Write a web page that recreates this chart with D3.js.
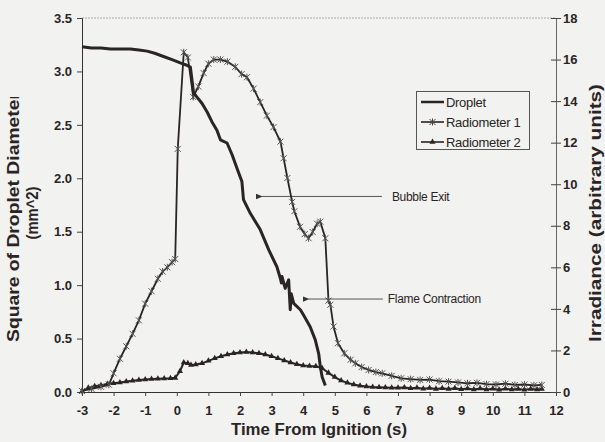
<!DOCTYPE html>
<html><head><meta charset="utf-8">
<script src="https://cdn.jsdelivr.net/npm/d3@7"></script>
<style>
html,body{margin:0;padding:0;background:#f2f2f0;}
svg{display:block;}
text{font-family:"Liberation Sans",Arial,sans-serif;fill:#2a2424;}
</style></head>
<body>
<svg id="c" width="605" height="442"></svg>
<script>
// ---- data ----
const dropletTime = [-3.0,-2.7,-2.4,-2.1,-1.8,-1.47,-1.2,-0.94,-0.7,-0.42,-0.15,0.11,0.3,0.43,0.53,0.64,0.8,0.96,1.11,1.27,1.38,1.59,1.75,1.91,2.06,2.11,2.33,2.64,2.91,3.17,3.28,3.31,3.33,3.43,3.54,3.59,3.62,3.70,3.91,4.01,4.22,4.38,4.49,4.54,4.60,4.70];
const dropletValue = [3.23,3.22,3.22,3.21,3.21,3.21,3.20,3.19,3.17,3.14,3.11,3.08,3.06,3.04,2.80,2.76,2.70,2.62,2.53,2.45,2.36,2.33,2.22,2.09,1.97,1.80,1.67,1.52,1.33,1.17,1.06,1.02,1.08,0.97,1.05,0.77,0.92,0.83,0.77,0.72,0.61,0.49,0.36,0.24,0.14,0.06];

const rad1Time = [-3.0,-2.7,-2.4,-2.15,-2.0,-1.8,-1.6,-1.4,-1.2,-1.0,-0.8,-0.6,-0.45,-0.3,-0.15,-0.05,0.03,0.22,0.35,0.52,0.68,0.85,1.0,1.17,1.38,1.6,1.85,2.05,2.22,2.43,2.64,2.85,3.06,3.28,3.38,3.5,3.65,3.72,3.9,4.05,4.17,4.3,4.44,4.54,4.7,4.8,4.86,4.96,5.1,5.3,5.5,5.65,5.85,6.07,6.3,6.5,6.8,7.1,7.4,7.7,8.0,8.3,8.6,8.9,9.2,9.5,9.8,10.1,10.4,10.7,11.0,11.3,11.55];
const rad1Value = [0.05,0.15,0.25,0.35,0.9,1.6,2.2,2.8,3.45,4.25,4.85,5.45,5.8,6.0,6.25,6.4,11.7,16.35,16.1,14.2,14.7,15.35,15.8,16.0,16.0,15.9,15.65,15.3,15.15,14.6,13.95,13.3,12.75,12.05,11.25,10.3,9.15,8.7,7.95,7.6,7.4,7.7,8.1,8.2,7.4,4.4,4.2,3.15,2.35,1.86,1.55,1.38,1.2,1.06,0.96,0.9,0.78,0.66,0.62,0.58,0.6,0.52,0.5,0.46,0.42,0.44,0.38,0.36,0.4,0.34,0.36,0.32,0.34];

const rad2Time = [-3.0,-2.8,-2.6,-2.4,-2.2,-2.0,-1.8,-1.6,-1.4,-1.2,-1.0,-0.8,-0.6,-0.4,-0.2,-0.05,0.1,0.22,0.35,0.45,0.6,0.8,1.0,1.2,1.4,1.6,1.8,2.0,2.2,2.4,2.6,2.8,3.0,3.2,3.4,3.6,3.8,4.0,4.2,4.4,4.6,4.8,5.0,5.2,5.4,5.6,5.8,6.0,6.2,6.4,6.6,6.8,7.0,7.2,7.4,7.6,7.8,8.0,8.2,8.4,8.6,8.8,9.0,9.2,9.4,9.6,9.8,10.0,10.2,10.4,10.6,10.8,11.0,11.2,11.4,11.55];
const rad2Value = [0.02,0.2,0.28,0.32,0.38,0.42,0.46,0.5,0.54,0.58,0.6,0.62,0.64,0.65,0.66,0.68,1.0,1.42,1.38,1.3,1.32,1.38,1.5,1.62,1.72,1.8,1.86,1.9,1.92,1.9,1.86,1.8,1.72,1.62,1.52,1.42,1.34,1.28,1.25,1.24,1.14,0.92,0.72,0.55,0.44,0.36,0.3,0.27,0.24,0.23,0.22,0.21,0.2,0.22,0.18,0.2,0.16,0.19,0.15,0.18,0.14,0.18,0.13,0.17,0.12,0.17,0.12,0.16,0.11,0.16,0.12,0.15,0.11,0.15,0.12,0.14];

const xTicks = [-3,-2,-1,0,1,2,3,4,5,6,7,8,9,10,11,12];
const leftTicks = [0,0.5,1.0,1.5,2.0,2.5,3.0,3.5];
const rightTicks = [0,2,4,6,8,10,12,14,16,18];
const legendLabels = ["Droplet","Radiometer 1","Radiometer 2"];
const xTitle = "Time From Ignition (s)";
const yTitleLines = ["Square of Droplet Diameter","(mm^2)"];
const y2Title = "Irradiance (arbitrary units)";
const notes = [{text:"Bubble Exit", t0:2.70, t1:6.49, v:1.83, gap:10},{text:"Flame Contraction", t0:4.18, t1:6.52, v:0.87, gap:5}];

// ---- drawing ----
const ink = "#2a2424";
const svg = d3.select("#c");
const x = d3.scaleLinear().domain([-3,12]).range([82,556]);
const yL = d3.scaleLinear().domain([0,3.5]).range([392,18]);
const yR = d3.scaleLinear().domain([0,18]).range([392,18]);

// top dotted border
svg.append("line").attr("x1",x(-3)).attr("x2",x(12)).attr("y1",yL(3.5)).attr("y2",yL(3.5))
  .attr("stroke","#aaa").attr("stroke-width",1).attr("stroke-dasharray","2,1");

// axes
const fmt1 = d3.format(".1f");
const hy = d => String(d);
const gL = svg.append("g").attr("transform",`translate(${x(-3)},0)`)
  .call(d3.axisLeft(yL).tickValues(leftTicks).tickFormat(fmt1).tickSize(5).tickPadding(5));
const gB = svg.append("g").attr("transform",`translate(0,${yL(0)})`)
  .call(d3.axisBottom(x).tickValues(xTicks).tickFormat(hy).tickSize(4).tickPadding(10));
const gR = svg.append("g").attr("transform",`translate(${x(12)},0)`)
  .call(d3.axisRight(yR).tickValues(rightTicks).tickFormat(hy).tickSize(5).tickPadding(2));
gR.selectAll(".tick line").attr("x1",-5);
gR.select(".domain").attr("stroke","#666");
[gL,gB,gR].forEach(g=>{
  g.selectAll("text").style("font-family",'"Liberation Sans",Arial,sans-serif').style("font-size","13px").style("font-weight","bold").attr("fill",ink);
  g.selectAll("line").attr("stroke","#444");
});
gL.select(".domain").attr("stroke","#333");
gB.select(".domain").attr("stroke","#333");
gB.selectAll("text").attr("dy","0.71em");

// annotations
svg.append("defs").html('<marker id="ah" viewBox="0 0 10 10" refX="1" refY="5" markerWidth="7" markerHeight="7" orient="auto-start-reverse"><path d="M0,5 L10,1 L10,9 Z" fill="#333"/></marker><clipPath id="ytclip"><rect x="0" y="97" width="60" height="345"/></clipPath>');
notes.forEach(n=>{
  svg.append("line").attr("x1",x(n.t0)).attr("x2",x(n.t1)).attr("y1",yL(n.v)).attr("y2",yL(n.v))
    .attr("stroke","#555").attr("stroke-width",1).attr("marker-start","url(#ah)");
  svg.append("text").attr("x",x(n.t1)+n.gap).attr("y",yL(n.v)).attr("dy","0.35em")
    .style("font-size","12px").style("letter-spacing","-0.3px").text(n.text);
});

// series
const line = (ys)=>d3.line().x(d=>x(d[0])).y(d=>ys(d[1]));
const rad2 = rad2Time.map((t,i)=>[t,rad2Value[i]]);
const rad1 = rad1Time.map((t,i)=>[t,rad1Value[i]]);
const drop = dropletTime.map((t,i)=>[t,dropletValue[i]]);

svg.append("path").datum(rad2).attr("d",line(yR)).attr("fill","none").attr("stroke",ink).attr("stroke-width",2);
const tri = d3.symbol().type(d3.symbolTriangle).size(16);
svg.append("g").selectAll("path").data(rad2).join("path")
  .attr("transform",d=>`translate(${x(d[0])},${yR(d[1])})`).attr("d",tri).attr("fill",ink);

svg.append("path").datum(rad1).attr("d",line(yR)).attr("fill","none").attr("stroke",ink).attr("stroke-width",1.8);
const star = "M-3,-3L3,3M-3,3L3,-3M0,-3.5L0,3.5";
svg.append("g").selectAll("path").data(rad1).join("path")
  .attr("transform",d=>`translate(${x(d[0])},${yR(d[1])})`).attr("d",star).attr("stroke","#555").attr("stroke-width",1).attr("fill","none");

svg.append("path").datum(drop).attr("d",line(yL)).attr("fill","none").attr("stroke",ink).attr("stroke-width",3).attr("stroke-linejoin","round");

// legend
const lg = svg.append("g");
lg.append("rect").attr("x",416.5).attr("y",91.5).attr("width",113).attr("height",58).attr("fill","#f2f2f0").attr("stroke","#555");
legendLabels.forEach((lab,i)=>{
  const yy = 102 + i*20;
  lg.append("line").attr("x1",421).attr("x2",444).attr("y1",yy).attr("y2",yy).attr("stroke",ink).attr("stroke-width",i===0?2.5:1.6);
  if(i===1) lg.append("path").attr("transform",`translate(432.5,${yy})`).attr("d",star).attr("stroke","#444").attr("fill","none");
  if(i===2) lg.append("path").attr("transform",`translate(432.5,${yy})`).attr("d",tri).attr("fill",ink);
  lg.append("text").attr("x",446).attr("y",yy).attr("dy","0.36em").style("font-size","13px").style("letter-spacing","-0.3px").text(lab);
});

// titles
svg.append("text").attr("x",(x(-3)+x(12))/2).attr("y",435).attr("text-anchor","middle")
  .style("font-size","16px").style("font-weight","bold").attr("textLength",176).attr("lengthAdjust","spacingAndGlyphs").text(xTitle);
const yt = svg.append("g").attr("clip-path","url(#ytclip)");
yTitleLines.forEach((s,i)=>{
  const t = yt.append("text").attr("transform",`translate(${i===0?19:38},${i===0?217:213}) rotate(-90)`).attr("text-anchor","middle")
    .style("font-size","16px").style("font-weight","bold").text(s);
  t.attr("textLength", i===0?250:53).attr("lengthAdjust","spacingAndGlyphs");
});
svg.append("text").attr("transform",`translate(600.5,213) rotate(-90)`).attr("text-anchor","middle")
  .style("font-size","16px").style("font-weight","bold").attr("textLength",258).attr("lengthAdjust","spacingAndGlyphs").text(y2Title);
</script>
</body></html>
